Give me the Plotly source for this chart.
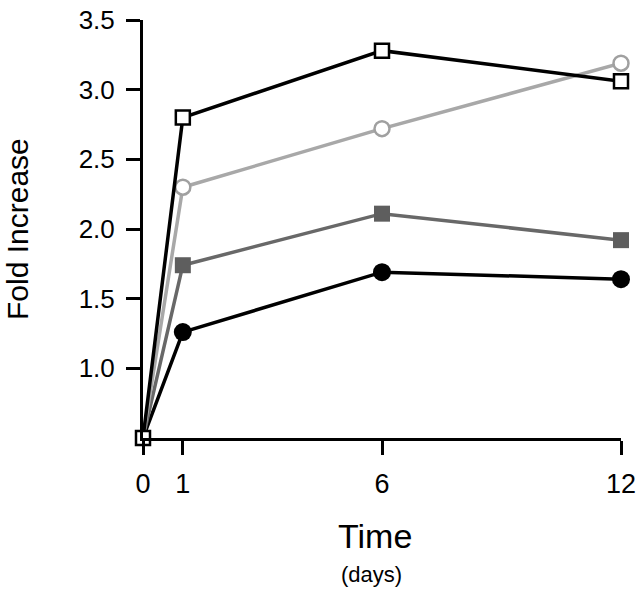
import plotly.graph_objects as go

days = [0, 1, 6, 12]
open_square = [0.5, 2.80, 3.28, 3.06]
open_circle = [0.5, 2.30, 2.72, 3.19]
filled_square = [0.5, 1.74, 2.11, 1.92]
filled_circle = [0.5, 1.26, 1.69, 1.64]

x_ticks = [0, 1, 6, 12]
y_ticks = [1.0, 1.5, 2.0, 2.5, 3.0, 3.5]
y_tick_text = ["1.0", "1.5", "2.0", "2.5", "3.0", "3.5"]

FONT = "Liberation Sans, Arial, sans-serif"
fig = go.Figure()

hide0 = lambda s: [0] + [s] * 3

fig.add_trace(go.Scatter(
    x=days, y=filled_circle, mode="lines+markers", cliponaxis=False,
    line=dict(color="#000000", width=3.5),
    marker=dict(symbol="circle", size=hide0(18), color="#000000", opacity=1,
                line=dict(width=0)),
))
fig.add_trace(go.Scatter(
    x=days, y=filled_square, mode="lines+markers", cliponaxis=False,
    line=dict(color="#686868", width=3.5),
    marker=dict(symbol="square", size=hide0(16), color="#5e5e5e", opacity=1,
                line=dict(width=0)),
))
fig.add_trace(go.Scatter(
    x=days, y=open_circle, mode="lines+markers", cliponaxis=False,
    line=dict(color="#a8a8a8", width=3.5),
    marker=dict(symbol="circle", size=hide0(15), color="white", opacity=1,
                line=dict(color="#a0a0a0", width=2.5)),
))
fig.add_trace(go.Scatter(
    x=days, y=open_square, mode="lines+markers", cliponaxis=False,
    line=dict(color="#000000", width=3.5),
    marker=dict(symbol="square", size=14, color="white", opacity=1,
                line=dict(color="#000000", width=2.5)),
))

fig.update_layout(
    width=640, height=591,
    margin=dict(l=143, r=19, t=20, b=153),
    paper_bgcolor="white", plot_bgcolor="white",
    showlegend=False,
    font=dict(family=FONT, color="black"),
    xaxis=dict(range=[0, 12], tickvals=x_ticks, ticktext=[str(v) for v in x_ticks],
               showgrid=False, zeroline=False, showline=True, linecolor="black",
               linewidth=3, ticks="outside", ticklen=14, tickwidth=3,
               tickcolor="black", tickfont=dict(size=27, family=FONT),
               ticklabelstandoff=6, automargin=False, ticklabeloverflow="allow"),
    yaxis=dict(range=[0.5, 3.5], tickvals=y_ticks, ticktext=y_tick_text,
               showgrid=False, zeroline=False, showline=True, linecolor="black",
               linewidth=3, ticks="outside", ticklen=14, tickwidth=3,
               tickcolor="black", tickfont=dict(size=26, family=FONT),
               ticklabelstandoff=6, automargin=False, ticklabeloverflow="allow"),
    annotations=[
        dict(text="Time", xref="paper", yref="paper", x=0.485, y=0, yshift=-98,
             xanchor="center", yanchor="middle", showarrow=False,
             font=dict(size=34, family=FONT)),
        dict(text="(days)", xref="paper", yref="paper", x=0.477, y=0, yshift=-136,
             xanchor="center", yanchor="middle", showarrow=False,
             font=dict(size=22, family=FONT)),
        dict(text="Fold Increase", xref="paper", yref="paper", x=0, y=0.5,
             xshift=-126, xanchor="center", yanchor="middle", textangle=-90,
             showarrow=False, font=dict(size=30, family=FONT)),
    ],
)

fig.write_html("out.html", config={"displayModeBar": False},
               post_script="document.body.style.margin='0';")
